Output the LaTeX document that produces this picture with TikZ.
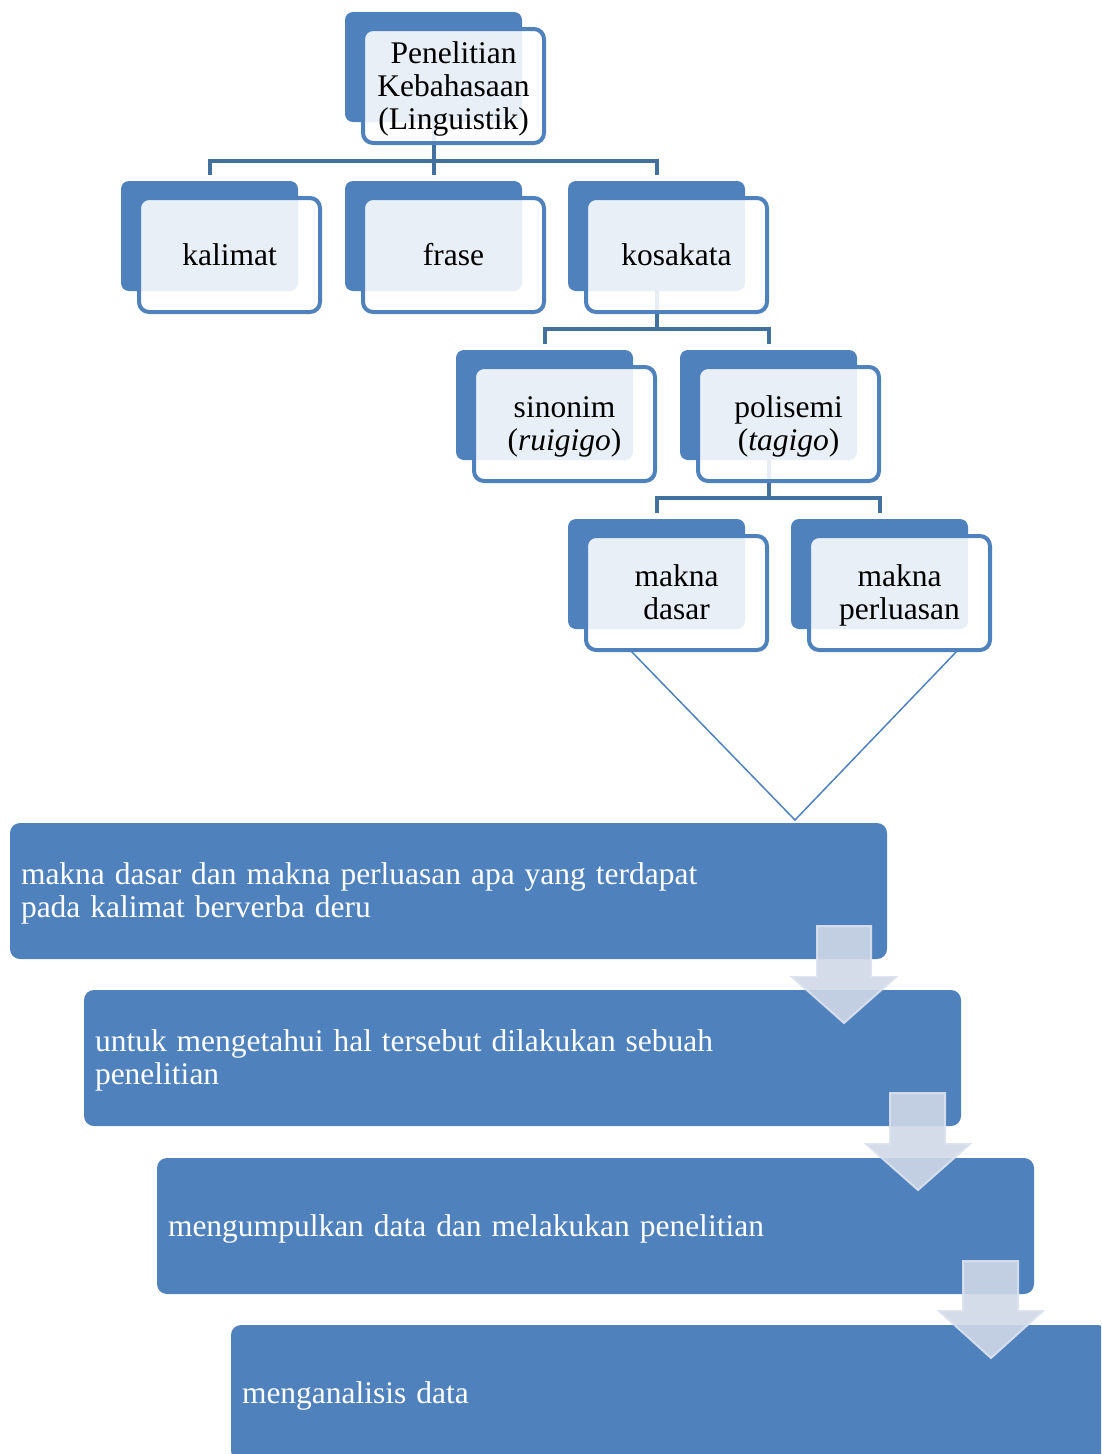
\documentclass[tikz,border=0pt]{standalone}
\usepackage{fontspec}
\setmainfont{Liberation Serif}
\definecolor{mblue}{HTML}{4F81BD}
\definecolor{mconn}{HTML}{41719C}
\definecolor{marrow}{HTML}{CFD7E7}
\definecolor{marrowedge}{HTML}{DCE2EE}
\newcommand\mytop{\rule{0pt}{28pt}}
\newcommand\mybot{\rule[-8pt]{0pt}{8pt}}
\newcommand\mytight{\spaceskip=9.9pt\relax}
\begin{document}
\begin{tikzpicture}[x=1pt,y=-1pt,
  backbox/.style={rectangle,rounded corners=8pt,fill=mblue,minimum width=177pt,minimum height=110pt,inner sep=0pt,outer sep=0pt},
  frontbox/.style={rectangle,rounded corners=10pt,draw=mblue,line width=4pt,fill=white,fill opacity=0.88,text opacity=1,
    minimum width=181pt,minimum height=114pt,inner sep=0pt,outer sep=0pt,align=center,
    font=\fontsize{31.5}{33}\selectfont},
  conn/.style={draw=mconn,line width=4pt},
  vline/.style={draw=mblue,line width=1.5pt},
  stepbox/.style={rectangle,rounded corners=10pt,fill=mblue,minimum width=877pt,minimum height=136pt,
    text width=855pt,inner xsep=11pt,inner ysep=0pt,align=left,text=white,
    font=\fontsize{31.5}{33}\selectfont},
  downarrow/.style={fill=marrow,fill opacity=0.9,draw=marrowedge,draw opacity=0.9,line width=2pt,line join=miter}
]
\useasboundingbox (0,0) rectangle (1101,1454);
\clip (0,0) rectangle (1101,1454);

% back rectangles
\node[backbox] (rootb) at (433.5,67) {};
\node[backbox] (kalimatb) at (209.5,236) {};
\node[backbox] (fraseb) at (433.5,236) {};
\node[backbox] (kosakatab) at (656.5,236) {};
\node[backbox] (sinonimb) at (544.5,405) {};
\node[backbox] (polisemib) at (768.5,405) {};
\node[backbox] (dasarb) at (656.5,574) {};
\node[backbox] (perluasanb) at (879.5,574) {};

% connectors
\draw[conn] (rootb.south) -- ++(0,39) coordinate (r1) -| ([yshift=6pt]kalimatb.north);
\draw[conn] (r1) -- ([yshift=6pt]fraseb.north);
\draw[conn] (r1) -| ([yshift=6pt]kosakatab.north);
\draw[conn] (kosakatab.south) -- ++(0,38) coordinate (r2) -| ([yshift=6pt]sinonimb.north);
\draw[conn] (r2) -| ([yshift=6pt]polisemib.north);
\draw[conn] (polisemib.south) -- ++(0,38) coordinate (r3) -| ([yshift=6pt]dasarb.north);
\draw[conn] (r3) -| ([yshift=6pt]perluasanb.north);

% front rectangles
\node[frontbox] (root) at (453.5,86) {\mytop Penelitian\\Kebahasaan\\(Linguistik)\mybot};
\node[frontbox] (kalimat) at (229.5,255) {\mytop kalimat\mybot};
\node[frontbox] (frase) at (453.5,255) {\mytop frase\mybot};
\node[frontbox] (kosakata) at (676.5,255) {\mytop kosakata\mybot};
\node[frontbox] (sinonim) at (564.5,424) {\mytop sinonim\\(\textit{ruigigo})\mybot};
\node[frontbox] (polisemi) at (788.5,424) {\mytop polisemi\\(\textit{tagigo})\mybot};
\node[frontbox] (dasar) at (676.5,593) {\mytop makna\\dasar\mybot};
\node[frontbox] (perluasan) at (899.5,593) {\mytop makna\\perluasan\mybot};

% bottom steps
\node[stepbox] (s1) at (448.5,891) {\mytight\mytop makna dasar dan makna perluasan apa yang terdapat\\pada kalimat berverba deru\mybot};
\node[stepbox] (s2) at (522.5,1058) {\mytight\mytop untuk mengetahui hal tersebut dilakukan sebuah\\penelitian\mybot};
\node[stepbox] (s3) at (595.5,1226) {\mytight\mytop mengumpulkan data dan melakukan penelitian\mybot};
\node[stepbox] (s4) at (669.5,1393) {\mytight\mytop menganalisis data\mybot};

% V lines
\coordinate (apex) at (795,820);
\draw[vline] ([xshift=-46.5pt]dasar.south) -- (apex) -- ([xshift=58.5pt]perluasan.south);

% down arrows
\draw[downarrow] (817,926) -- (871,926) -- (871,977) -- (896,977) -- (844,1023) -- (792,977) -- (817,977) -- cycle;
\draw[downarrow] (890,1093) -- (945,1093) -- (945,1144) -- (970,1144) -- (918,1190) -- (866,1144) -- (890,1144) -- cycle;
\draw[downarrow] (963,1261) -- (1018,1261) -- (1018,1311) -- (1043,1311) -- (991,1358) -- (939,1311) -- (963,1311) -- cycle;
\end{tikzpicture}
\end{document}
